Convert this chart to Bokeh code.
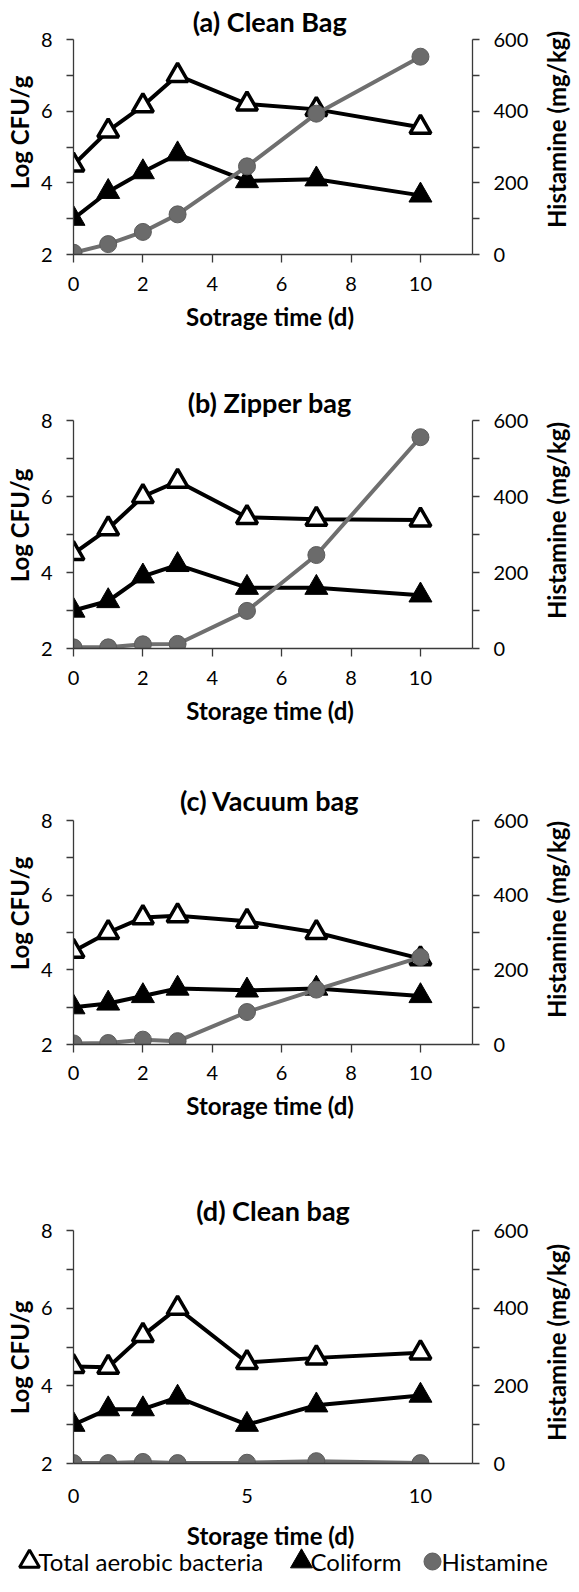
import math
from bokeh.plotting import figure
from bokeh.layouts import column, row
from bokeh.models import Range1d, LinearAxis, FixedTicker
from bokeh.embed import file_html
from bokeh.resources import INLINE
from bokeh.core.properties import value

# ---------------- data ----------------
days = [0, 1, 2, 3, 5, 7, 10]

titles = ["(a)  Clean Bag", "(b)  Zipper bag", "(c)  Vacuum bag", "(d) Clean bag"]
x_titles = ["Sotrage time  (d)", "Storage time  (d)", "Storage time  (d)", "Storage time  (d)"]
y_title = "Log CFU/g"
y2_title = "Histamine (mg/kg)"

tab_a = [4.5, 5.45, 6.15, 7.0, 6.2, 6.05, 5.55]
col_a = [3.0, 3.75, 4.3, 4.8, 4.05, 4.1, 3.65]
his_a = [5, 29, 63, 112, 246, 393, 552]

tab_b = [4.5, 5.15, 6.0, 6.4, 5.45, 5.4, 5.38]
col_b = [3.0, 3.25, 3.9, 4.2, 3.6, 3.6, 3.4]
his_b = [3, 3, 11, 12, 99, 246, 556]

tab_c = [4.5, 5.0, 5.4, 5.45, 5.3, 5.0, 4.3]
col_c = [3.0, 3.1, 3.3, 3.5, 3.45, 3.5, 3.3]
his_c = [3, 4, 13, 9, 87, 147, 234]

tab_d = [4.5, 4.48, 5.3, 6.0, 4.6, 4.72, 4.85]
col_d = [3.0, 3.4, 3.4, 3.7, 3.0, 3.5, 3.75]
his_d = [1, 1, 4, 1, 2, 6, 1]

y_ticks = [2, 4, 6, 8]
y_minor = [3, 5, 7]
y2_ticks = [0, 200, 400, 600]
y2_minor = [100, 300, 500]
x_ticks_abc = [0, 2, 4, 6, 8, 10]
x_ticks_d = [0, 5, 10]

legend_names = ["Total aerobic bacteria", "Coliform", "Histamine"]

series = [
    (tab_a, col_a, his_a, x_ticks_abc),
    (tab_b, col_b, his_b, x_ticks_abc),
    (tab_c, col_c, his_c, x_ticks_abc),
    (tab_d, col_d, his_d, x_ticks_d),
]

# ---------------- layout (page px) ----------------
FONT = "Lato"
LX0, LX1 = 8, 45          # left label strip
MX0, MX1 = 45, 549        # main figures
RX0, RX1 = 549, 579       # right label strip
FL, FR = 81, 480          # frame left / right
XMAX = 11.5
panels = [
    # fig_top, fig_h, frame_top, frame_bot, title_standoff, xlab_standoff, ylab_y, y2lab_y
    (8, 374, 45, 262, 4, 14, 140, 137),
    (382, 398, 428, 656, 3, 14, 533, 528),
    (780, 380, 828, 1052, 7, 13, 921, 927),
    (1160, 362, 1238, 1471, 8, 25, 1365, 1350),
]
YL_X, Y2L_X = 27, 564
BOT_TOP, BOT_BOT = 1522, 1584
XT_X, XT_Y = 281, 1543
LEG_Y = 1569

AX_COL = "#3a3a3a"
HIS_COL = "#6f6f6f"
HIS_FILL = "#6b6b6b"
HIS_LINE = "#5c5c5c"


def strip(x0, x1, ft, fh):
    s = figure(width=x1 - x0, height=fh, x_range=Range1d(x0, x1), y_range=Range1d(0, fh),
               toolbar_location=None, output_backend="svg", title=None, min_border=0,
               x_axis_location=None, y_axis_location=None)
    s.outline_line_color = None
    s.xgrid.visible = False
    s.ygrid.visible = False
    return s


mains, lefts, rights = [], [], []
for i, (tab, col, his, xt) in enumerate(series):
    ft, fh, f_top, f_bot, t_so, xl_so, yl_y, y2l_y = panels[i]
    p = figure(width=MX1 - MX0, height=fh, x_range=Range1d(0, XMAX), y_range=Range1d(2, 8),
               toolbar_location=None, output_backend="svg", title=titles[i],
               min_border_left=FL - MX0, min_border_right=MX1 - FR,
               min_border_top=f_top - ft, min_border_bottom=fh - (f_bot - ft))
    p.extra_y_ranges = {"hist": Range1d(0, 600)}
    p.outline_line_color = None
    p.xgrid.visible = False
    p.ygrid.visible = False

    p.title.align = "center"
    p.title.offset = -10
    p.title.standoff = t_so
    p.title.text_font = FONT
    p.title.text_font_size = "27px"
    p.title.text_font_style = "bold"
    p.title.text_color = "black"

    # axes
    p.yaxis.ticker = FixedTicker(ticks=y_ticks, minor_ticks=y_minor)
    p.xaxis.ticker = FixedTicker(ticks=xt)
    ax2 = LinearAxis(y_range_name="hist", ticker=FixedTicker(ticks=y2_ticks, minor_ticks=y2_minor))
    p.add_layout(ax2, "right")
    for ax in [p.xaxis[0], p.yaxis[0], ax2]:
        ax.axis_line_color = AX_COL
        ax.axis_line_width = 1.3
        ax.major_tick_line_color = AX_COL
        ax.minor_tick_line_color = AX_COL
        ax.major_tick_line_width = 1.3
        ax.minor_tick_line_width = 1.3
        ax.major_tick_in = 0
        ax.minor_tick_in = 0
        ax.major_tick_out = 7
        ax.minor_tick_out = 7
        ax.major_label_text_font = FONT
        ax.major_label_text_font_size = "20px"
        ax.major_label_text_color = "black"
        ax.major_label_standoff = 14
        ax.axis_label_text_font = FONT
        ax.axis_label_text_font_size = "24px"
        ax.axis_label_text_font_style = "bold"
        ax.axis_label_text_color = "black"
    p.xaxis[0].major_label_standoff = xl_so
    if i < 3:
        p.xaxis[0].axis_label = x_titles[i]
        p.xaxis[0].axis_label_standoff = 8
        p.xaxis[0].major_tick_out = 8
    else:
        p.xaxis[0].major_tick_out = 0

    # series
    p.line(days, tab, line_color="black", line_width=4)
    p.scatter(days, tab, marker="triangle", size=21, fill_color="white",
              line_color="black", line_width=3.5)
    p.line(days, col, line_color="black", line_width=4)
    p.scatter(days, col, marker="triangle", size=23, fill_color="black",
              line_color="black", line_width=1)
    p.line(days, his, y_range_name="hist", line_color=HIS_COL, line_width=4)
    p.scatter(days, his, y_range_name="hist", marker="circle", size=17,
              fill_color=HIS_FILL, line_color=HIS_LINE, line_width=1)
    mains.append(p)

    # vertical axis titles (read bottom-to-top on both sides)
    ls = strip(LX0, LX1, ft, fh)
    ls.text([YL_X], [ft + fh - yl_y], text=[y_title], angle=math.pi / 2,
            text_font=value(FONT), text_font_size="24px", text_font_style="bold",
            text_align="center", text_baseline="middle", text_color="black")
    lefts.append(ls)
    rs = strip(RX0, RX1, ft, fh)
    rs.text([Y2L_X], [ft + fh - y2l_y], text=[y2_title], angle=math.pi / 2,
            text_font=value(FONT), text_font_size="24px", text_font_style="bold",
            text_align="center", text_baseline="middle", text_color="black")
    rights.append(rs)

# ---------------- bottom strip: x title of (d) + legend ----------------
BH = BOT_BOT - BOT_TOP
bot = figure(width=RX1 - LX0, height=BH, x_range=Range1d(LX0, RX1), y_range=Range1d(0, BH),
             toolbar_location=None, output_backend="svg", title=None, min_border=0,
             x_axis_location=None, y_axis_location=None)
bot.outline_line_color = None
bot.xgrid.visible = False
bot.ygrid.visible = False
bot.text([XT_X], [BOT_BOT - XT_Y], text=[x_titles[3]], text_font=value(FONT),
         text_font_size="24px", text_font_style="bold", text_align="center",
         text_baseline="middle", text_color="black")
mk_x = [37, 309, 440]
tx_x = [46, 318, 449]
ly = BOT_BOT - LEG_Y
bot.scatter([mk_x[0]], [ly], marker="triangle", size=20, fill_color="white",
            line_color="black", line_width=3)
bot.scatter([mk_x[1]], [ly], marker="triangle", size=22, fill_color="black",
            line_color="black", line_width=1)
bot.scatter([mk_x[2]], [ly], marker="circle", size=17, fill_color=HIS_FILL,
            line_color=HIS_LINE, line_width=1)
bot.text(tx_x, [ly] * 3, text=legend_names, text_font=value(FONT), text_font_size="24px",
         text_align="left", text_baseline="middle", text_color="black")

top = row(column(*lefts, spacing=0), column(*mains, spacing=0), column(*rights, spacing=0),
          spacing=0)
open("out.html", "w").write(file_html([top, bot], INLINE))
